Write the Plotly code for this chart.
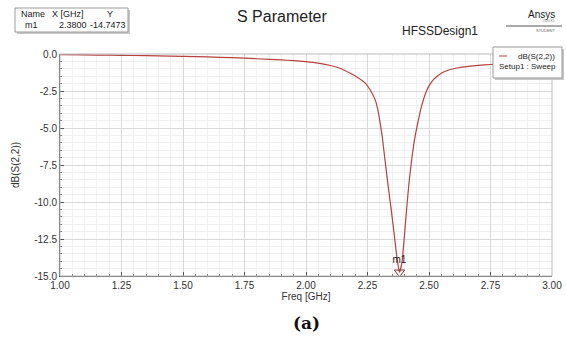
import plotly.graph_objects as go

# Data
freq_ghz = [1.00, 1.10, 1.20, 1.30, 1.40, 1.50, 1.60, 1.70, 1.80, 1.90, 1.95, 2.00, 2.05,
            2.10, 2.14, 2.18, 2.21, 2.24, 2.26, 2.28, 2.29, 2.30, 2.31, 2.32, 2.33, 2.34,
            2.35, 2.36, 2.37, 2.38, 2.39, 2.40, 2.41, 2.42, 2.43, 2.44, 2.455, 2.47,
            2.485, 2.50, 2.52, 2.55, 2.58, 2.62, 2.66, 2.70, 2.75, 2.80, 2.90, 3.00]
s22_db = [-0.05, -0.06, -0.08, -0.10, -0.13, -0.16, -0.20, -0.25, -0.32, -0.40, -0.45, -0.52, -0.62,
          -0.78, -0.98, -1.30, -1.58, -1.95, -2.40, -3.05, -3.60, -4.50, -5.60, -7.00, -8.40, -9.70,
          -11.0, -12.4, -13.8, -14.75, -14.1, -12.3, -10.3, -8.5, -7.1, -5.9, -4.6, -3.5,
          -2.7, -2.15, -1.70, -1.30, -1.08, -0.93, -0.84, -0.77, -0.71, -0.66, -0.59, -0.54]

marker_name = "m1"
marker_x = 2.38
marker_y = -14.7473

x_tick_vals = [1.00, 1.25, 1.50, 1.75, 2.00, 2.25, 2.50, 2.75, 3.00]
x_tick_text = ["1.00", "1.25", "1.50", "1.75", "2.00", "2.25", "2.50", "2.75", "3.00"]
y_tick_vals = [0.0, -2.5, -5.0, -7.5, -10.0, -12.5, -15.0]
y_tick_text = ["0.0", "-2.5", "-5.0", "-7.5", "-10.0", "-12.5", "-15.0"]

FONT = "Liberation Sans, Arial, sans-serif"
LINE_COLOR = "#b5413f"

# plot area in pixels: left 60, right 552, top 54, bottom 276
L, R, T, B = 60, 552, 54, 276
W, H = 566, 342


def px(x):
    return (x - L) / (R - L)


def py(y):
    return (B - y) / (B - T)


fig = go.Figure()
fig.add_trace(go.Scatter(
    x=freq_ghz, y=s22_db, mode="lines",
    line=dict(color=LINE_COLOR, width=1.2, shape="spline", smoothing=0.5),
    showlegend=False, hoverinfo="skip"))
fig.add_trace(go.Scatter(
    x=[marker_x], y=[marker_y], mode="markers+text",
    marker=dict(symbol="triangle-down-open", size=9, color="#8a3030", line=dict(width=1)),
    text=[marker_name], textposition="top center",
    textfont=dict(family=FONT, size=10, color="#222"),
    showlegend=False, hoverinfo="skip"))

fig.update_layout(
    width=W, height=H,
    margin=dict(l=L, r=W - R, t=T, b=H - B, autoexpand=False),
    paper_bgcolor="white", plot_bgcolor="white",
    font=dict(family=FONT, size=10, color="#333"),
    xaxis=dict(
        range=[1.0, 3.0], tickvals=x_tick_vals, ticktext=x_tick_text, automargin=False,
        showgrid=True, gridcolor="#d9d9d9", gridwidth=1,
        showline=True, linecolor="#555", linewidth=1,
        ticks="inside", ticklen=4, tickcolor="#555",
        minor=dict(dtick=0.05, showgrid=True, gridcolor="#f0f0f0", ticks="inside", ticklen=2, tickcolor="#777"),
        zeroline=False,
        title=dict(text="Freq [GHz]", font=dict(family=FONT, size=10, color="#333"), standoff=1),
        tickfont=dict(family=FONT, size=10, color="#333"),
    ),
    yaxis=dict(
        range=[-15.0, 0.0], tickvals=y_tick_vals, ticktext=y_tick_text, automargin=False,
        showgrid=True, gridcolor="#d9d9d9", gridwidth=1,
        showline=True, linecolor="#555", linewidth=1,
        ticks="inside", ticklen=4, tickcolor="#555",
        minor=dict(dtick=0.5, showgrid=True, gridcolor="#f0f0f0", ticks="inside", ticklen=2, tickcolor="#777"),
        zeroline=False,
        title=dict(text="dB(S(2,2))", font=dict(family=FONT, size=10, color="#333"), standoff=12),
        tickfont=dict(family=FONT, size=10, color="#333"),
    ),
)


def note(text, x, y, size, xanchor="center", color="#222", family=FONT):
    fig.add_annotation(text=text, xref="paper", yref="paper", x=px(x), y=py(y),
                       xanchor=xanchor, yanchor="middle", showarrow=False,
                       font=dict(family=family, size=size, color=color))


# plot border (top/right)
fig.add_shape(type="rect", xref="paper", yref="paper", x0=0, y0=0, x1=1, y1=1,
              line=dict(color="#bbbbbb", width=1), layer="above")

# Title texts
note("S Parameter", 282, 17, 16)
note("HFSSDesign1", 440, 31, 12)
note("Ansys", 557, 14, 10, xanchor="right")
note("2023 R1", 557, 21, 3, xanchor="right", color="#777")
note("STUDENT", 557, 31, 4, xanchor="right", color="#666")
fig.add_shape(type="line", xref="paper", yref="paper", x0=px(506), x1=px(562), y0=py(26), y1=py(26),
              line=dict(color="#555", width=1))

# Marker table (top-left) with shadow
fig.add_shape(type="rect", xref="paper", yref="paper", x0=px(17), x1=px(130), y0=py(34), y1=py(10),
              line=dict(width=0), fillcolor="#c8c8c8")
fig.add_shape(type="rect", xref="paper", yref="paper", x0=px(15), x1=px(128), y0=py(32), y1=py(8),
              line=dict(color="#999", width=1), fillcolor="white")
for txt, xx, yy in [("Name", 33, 14), ("X [GHz]", 68, 14), ("Y", 110, 14),
                    (marker_name, 31, 25), ("%.4f" % marker_x, 73, 25),
                    ("%.4f" % marker_y, 108, 25)]:
    note(txt, xx, yy, 9)

# Legend box (top-right) with shadow
fig.add_shape(type="rect", xref="paper", yref="paper", x0=px(495), x1=px(564), y0=py(80), y1=py(49),
              line=dict(width=0), fillcolor="#c8c8c8", layer="above")
fig.add_shape(type="rect", xref="paper", yref="paper", x0=px(493), x1=px(562), y0=py(78), y1=py(47),
              line=dict(color="#999", width=1), fillcolor="white", layer="above")
fig.add_shape(type="line", xref="paper", yref="paper", x0=px(499), x1=px(507), y0=py(56), y1=py(56),
              line=dict(color=LINE_COLOR, width=1), layer="above")
note("dB(S(2,2))", 557, 56, 8, xanchor="right")
note("Setup1 : Sweep", 558, 67, 8, xanchor="right")

# Caption
note("<b>(a)</b>", 306, 323, 17, family="DejaVu Serif, serif", color="#111")

fig.write_html("out.html", config={"displayModeBar": False},
               post_script="document.body.style.margin='0';")
